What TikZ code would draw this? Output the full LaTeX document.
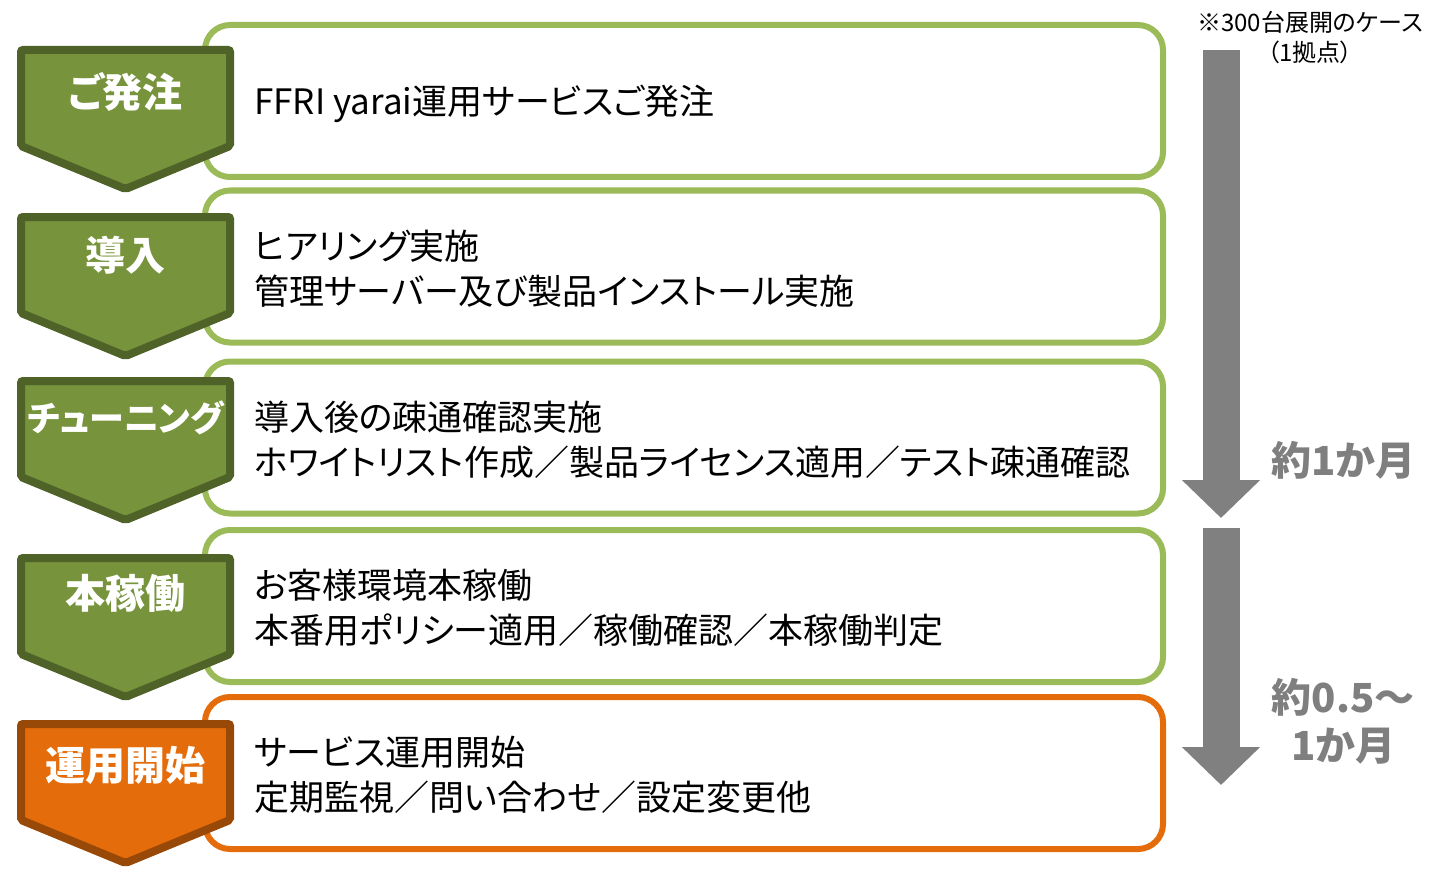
\documentclass[tikz,border=0pt]{standalone}
\usepackage{fontspec}
\setmainfont{Noto Sans CJK JP}[RawFeature=+palt]
\usetikzlibrary{positioning,arrows.meta}

\definecolor{stagegreen}{HTML}{77933C}
\definecolor{stageedge}{HTML}{4F6228}
\definecolor{boxgreen}{HTML}{9BBB59}
\definecolor{stageorange}{HTML}{E46C0A}
\definecolor{orangeedge}{HTML}{984807}
\definecolor{arrowgray}{HTML}{808080}
\definecolor{notegray}{HTML}{7F7F7F}

\begin{document}
\begin{tikzpicture}[x=1pt, y=-1pt,
  stepbox/.style={draw=boxgreen, fill=white, line width=6pt, rounded corners=25pt,
    minimum width=958pt, minimum height=152pt, inner sep=0pt},
  steptext/.style={align=left, inner sep=0pt, font=\fontsize{35}{45}\selectfont},
  chevron/.style={line width=8pt, rounded corners=2pt},
  stagelabel/.style={text=white, inner sep=0pt, font=\bfseries\fontsize{40}{40}\selectfont},
  span/.style={arrowgray, line width=37pt, -{Triangle[width=76pt, length=38pt]}},
  spanlabel/.style={text=notegray, align=center, font=\bfseries\fontsize{40}{48}\selectfont},
  notetext/.style={align=center, font=\fontsize{24}{30}\selectfont}]
  \useasboundingbox (0,0) rectangle (1447,869);

  % step boxes
  \foreach \y [count=\i] in {101,266.5,437.5,606}
    \node[stepbox] (box\i) at (684,\y) {};
  \node[stepbox, draw=stageorange] (box5) at (684,773) {};

  % stage chevrons
  \foreach \t/\l/\lab [count=\i] in {50/92/ご発注, 217/255/導入,
      381/418/{\fontsize{35}{35}\selectfont チューニング}, 558/593/本稼働} {
    \draw[chevron, fill=stagegreen, draw=stageedge]
      (21,\t) -- (230,\t) -- (230,\t+96) -- (125.5,\t+139) -- (21,\t+96) -- cycle;
    \node[stagelabel] (stage\i) at (125.5,\l) {\lab};
  }
  \draw[chevron, fill=stageorange, draw=orangeedge]
    (21,724) -- (230,724) -- (230,820) -- (125.5,863) -- (21,820) -- cycle;
  \node[stagelabel] (stage5) at (125.5,765) {運用開始};

  % step texts
  \node[steptext, right=52pt of box1.west, yshift=-3pt] (text1) {FFRI yarai運用サービスご発注};
  \node[steptext, right=52pt of box2.west, yshift=-2pt] (text2) {ヒアリング実施\\管理サーバー及び製品インストール実施};
  \node[steptext, right=52pt of box3.west, yshift=-2pt] (text3) {導入後の疎通確認実施\\ホワイトリスト作成／製品ライセンス適用／テスト疎通確認};
  \node[steptext, right=52pt of box4.west, yshift=-2pt] (text4) {お客様環境本稼働\\本番用ポリシー適用／稼働確認／本稼働判定};
  \node[steptext, right=52pt of box5.west, yshift=-2pt] (text5) {サービス運用開始\\定期監視／問い合わせ／設定変更他};

  % durations
  \coordinate (span1 top) at (1221,50);
  \coordinate (span1 end) at (1221,518);
  \coordinate (span2 top) at (1221,528);
  \coordinate (span2 end) at (1221,785);
  \draw[span] (span1 top) -- (span1 end);
  \draw[span] (span2 top) -- (span2 end);
  \node[spanlabel] (span1 label) at (1343,460) {約1か月};
  \node[spanlabel] (span2 label) at (1343,721) {約0.5～\\1か月};
  \node[notetext] (note) at (1310,38) {※300台展開のケース\\（1拠点）};

\end{tikzpicture}
\end{document}
